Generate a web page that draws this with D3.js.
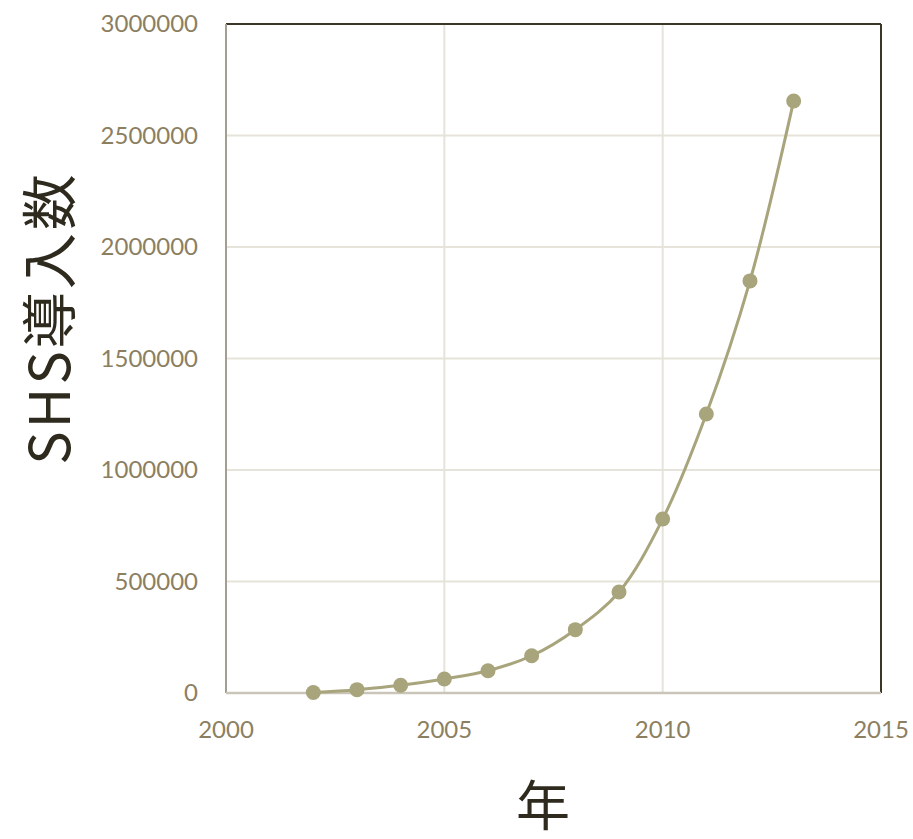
<!DOCTYPE html>
<html>
<head>
<meta charset="utf-8">
<script src="https://cdn.jsdelivr.net/npm/d3@7"></script>
<style>
  html, body { margin: 0; padding: 0; background: #ffffff; }
</style>
</head>
<body>
<div id="chart"></div>
<script>
// SHS adoption count per year

var years = [2002, 2003, 2004, 2005, 2006, 2007, 2008, 2009, 2010, 2011, 2012, 2013];
var counts = [2000, 15000, 34500, 63000, 100000, 167000, 284000, 453000, 780000, 1251000, 1848000, 2655000];
var xTicks = [2000, 2005, 2010, 2015];
var yTicks = [0, 500000, 1000000, 1500000, 2000000, 2500000, 3000000];

var width = 913;
var height = 839;

var margin = { top: 24, right: 32, bottom: 146, left: 226 };

var svg = d3.select("#chart")
    .append("svg")
    .attr("width", width)
    .attr("height", height);

var xScale = d3.scaleLinear()
    .domain([2000, 2015])
    .range([margin.left, width - margin.right]);

var yScale = d3.scaleLinear()
    .domain([0, 3000000])
    .range([height - margin.bottom, margin.top]);

var data = years.map(function(y, i) {
    return { year: y, count: counts[i] };
});

var labelFont = "Lato, 'Open Sans', sans-serif";
var labelColor = "#8c7f5f";

// grid
svg.selectAll(".hgrid")
    .data(yTicks.slice(1, -1))
    .enter()
    .append("line")
    .attr("x1", margin.left)
    .attr("x2", width - margin.right)
    .attr("y1", function(d) { return yScale(d); })
    .attr("y2", function(d) { return yScale(d); })
    .attr("stroke", "#e6e3da")
    .attr("stroke-width", 2);

svg.selectAll(".vgrid")
    .data(xTicks.slice(1, -1))
    .enter()
    .append("line")
    .attr("x1", function(d) { return xScale(d); })
    .attr("x2", function(d) { return xScale(d); })
    .attr("y1", margin.top)
    .attr("y2", height - margin.bottom)
    .attr("stroke", "#e6e3da")
    .attr("stroke-width", 2);

// frame: top + right dark, left + bottom gray
var x0 = xScale(2000), x1 = xScale(2015);
var y0 = yScale(0), y1 = yScale(3000000);

svg.append("line")
    .attr("x1", x0).attr("x2", x1)
    .attr("y1", y1).attr("y2", y1)
    .attr("stroke", "#3b3628").attr("stroke-width", 2);

svg.append("line")
    .attr("x1", x1).attr("x2", x1)
    .attr("y1", y1).attr("y2", y0)
    .attr("stroke", "#3b3628").attr("stroke-width", 2);

svg.append("line")
    .attr("x1", x0).attr("x2", x0)
    .attr("y1", y1).attr("y2", y0)
    .attr("stroke", "#a29e90").attr("stroke-width", 2);

svg.append("line")
    .attr("x1", x0).attr("x2", x1)
    .attr("y1", y0).attr("y2", y0)
    .attr("stroke", "#c9c5b8").attr("stroke-width", 2.5);

// tick labels
svg.selectAll(".ylab")
    .data(yTicks)
    .enter()
    .append("text")
    .attr("x", margin.left - 28)
    .attr("y", function(d) { return yScale(d) + 8; })
    .attr("text-anchor", "end")
    .attr("fill", labelColor)
    .attr("font-family", labelFont)
    .attr("font-size", "24px")
    .text(function(d) { return d; });

svg.selectAll(".xlab")
    .data(xTicks)
    .enter()
    .append("text")
    .attr("x", function(d) { return xScale(d); })
    .attr("y", y0 + 45)
    .attr("text-anchor", "middle")
    .attr("fill", labelColor)
    .attr("font-family", labelFont)
    .attr("font-size", "24px")
    .text(function(d) { return d; });

// line
var line = d3.line()
    .x(function(d) { return xScale(d.year); })
    .y(function(d) { return yScale(d.count); })
    .curve(d3.curveCatmullRom.alpha(0.5));

svg.append("path")
    .datum(data)
    .attr("d", line)
    .attr("fill", "none")
    .attr("stroke", "#a8a47c")
    .attr("stroke-width", 3);

svg.selectAll(".pt")
    .data(data)
    .enter()
    .append("circle")
    .attr("cx", function(d) { return xScale(d.year); })
    .attr("cy", function(d) { return yScale(d.count); })
    .attr("r", 7.5)
    .attr("fill", "#a8a47c");

// axis titles
var titleFont = "'Noto Sans CJK JP', 'Noto Sans', sans-serif";

svg.append("text")
    .attr("transform", "translate(70," + 318 + ") rotate(-90)")
    .attr("text-anchor", "middle")
    .attr("fill", "#2e2a1e")
    .attr("font-family", titleFont)
    .attr("font-size", "56px")
    .attr("letter-spacing", "3px")
    .text("SHS導入数");

svg.append("text")
    .attr("x", 543)
    .attr("y", 826)
    .attr("text-anchor", "middle")
    .attr("fill", "#2e2a1e")
    .attr("font-family", titleFont)
    .attr("font-size", "54px")
    .text("年");
</script>
</body>
</html>
